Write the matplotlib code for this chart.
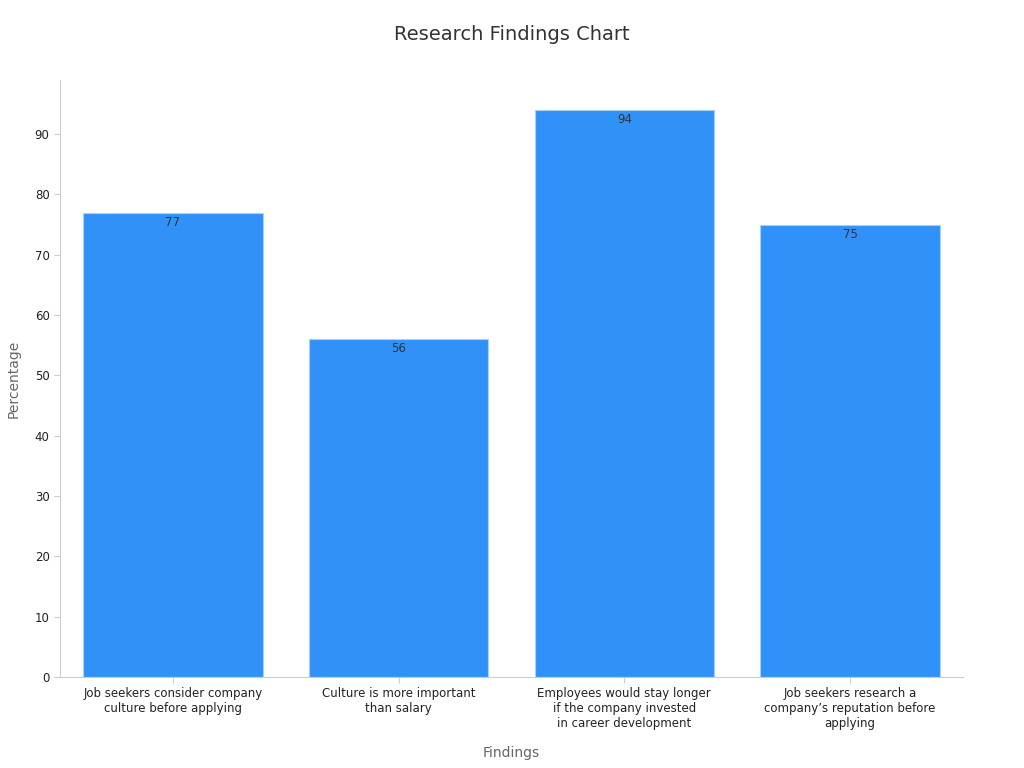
import matplotlib
matplotlib.use("Agg")
import matplotlib.pyplot as plt

categories = ["Job seekers consider company\nculture before applying",
              "Culture is more important\nthan salary",
              "Employees would stay longer\nif the company invested\nin career development",
              "Job seekers research a\ncompany\u2019s reputation before\napplying"]
values = [77, 56, 94, 75]

fig = plt.figure(figsize=(10.24, 7.68), dpi=100)
ax = fig.add_axes([0.0586, 0.1185, 0.8818, 0.7775])
x = range(len(values))
bars = ax.bar(x, values, width=0.795, color="#3092F9", edgecolor="#A8CFF8", linewidth=0.8)
for xi, v in zip(x, values):
    ax.text(xi, v - 0.5, str(v), ha="center", va="top", fontsize=8.5, color="#333333")
ax.set_xticks(list(x))
ax.set_xticklabels(categories, fontsize=8.5, color="#222222")
ax.set_yticks(range(0, 100, 10))
ax.tick_params(axis="y", labelsize=8.5, colors="#222222", length=4, color="#cccccc")
ax.tick_params(axis="x", length=4, color="#cccccc")
ax.set_xlim(-0.5, 3.5)
ax.set_ylim(0, 99)
for s in ["top", "right"]:
    ax.spines[s].set_visible(False)
for s in ["left", "bottom"]:
    ax.spines[s].set_color("#cccccc")
ax.set_xlabel("Findings", fontsize=10, color="#666666", labelpad=11)
ax.set_ylabel("Percentage", fontsize=10, color="#666666", labelpad=10)
fig.suptitle("Research Findings Chart", fontsize=14, color="#333333", y=0.967)
fig.savefig("out.png", dpi=100)
